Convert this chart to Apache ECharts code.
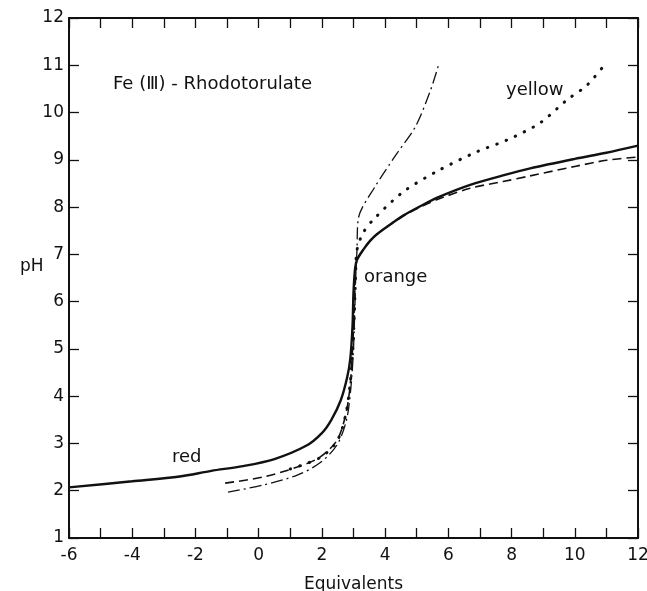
<!DOCTYPE html>
<html><head><meta charset="utf-8">
<script src="https://cdn.jsdelivr.net/npm/echarts@6/dist/echarts.min.js"></script>
<style>html,body{margin:0;padding:0;background:#fff}#c{width:647px;height:591px}</style>
</head><body><div id="c"></div>
<script>
// Data (x = equivalents, y = pH)
const redOrangeSolid = [[-6,2.07],[-4,2.2],[-2.5,2.30],[-1.5,2.42],[-0.5,2.52],[0.5,2.67],[1.5,2.95],[2.0,3.22],[2.3,3.5],[2.6,3.92],[2.8,4.4],[2.9,4.8],[2.97,5.5],[3.0,6.2],[3.05,6.7],[3.11,6.88],[3.3,7.09],[3.53,7.29],[3.75,7.43],[4.16,7.63],[4.57,7.82],[5.2,8.05],[5.65,8.2],[6.69,8.47],[7.73,8.67],[8.59,8.82],[10.0,9.02],[11.0,9.15],[12,9.30]];
const dashedCurve = [[-1.06,2.16],[0.14,2.29],[1.22,2.50],[1.94,2.71],[2.48,3.07],[2.75,3.6],[2.89,4.2],[2.97,5.0],[3.02,5.8],[3.06,6.5],[3.11,6.88],[3.3,7.09],[3.53,7.29],[3.75,7.43],[4.16,7.63],[4.57,7.81],[5.2,8.03],[5.65,8.16],[6.69,8.4],[7.73,8.54],[8.59,8.66],[10.0,8.86],[11.0,8.99],[12,9.06]];
const dashDotCurve = [[-0.97,1.97],[0.14,2.12],[1.22,2.33],[1.94,2.59],[2.48,2.97],[2.78,3.5],[2.92,4.2],[3.0,5.0],[3.04,5.8],[3.07,6.5],[3.11,7.09],[3.15,7.75],[3.68,8.43],[4.38,9.14],[4.95,9.69],[5.42,10.44],[5.71,11.05]];
const dottedYellow = [[1.0,2.46],[1.94,2.70],[2.48,3.05],[2.75,3.6],[2.9,4.3],[2.98,5.0],[3.03,5.8],[3.07,6.6],[3.11,7.09],[3.30,7.45],[3.62,7.73],[4.57,8.32],[5.65,8.76],[6.9,9.17],[7.86,9.42],[8.9,9.78],[9.76,10.27],[10.39,10.58],[10.99,11.05]];
const xMin = -6, xMax = 12, yMin = 1, yMax = 12;

const chart = echarts.init(document.getElementById('c'));
const F = 'DejaVu Sans';
const axisLine = {show:true, onZero:false, lineStyle:{color:'#111', width:2}};
const tick = {show:true, inside:true, length:10, lineStyle:{color:'#111', width:1.3}};
const baseSeries = (data, ls) => ({type:'line', data, showSymbol:false, smooth:0.3, lineStyle:Object.assign({color:'#111'}, ls), silent:true});
chart.setOption({
  animation:false,
  grid:{left:69, right:9, top:18, bottom:53, containLabel:false, outerBoundsMode:'none'},
  xAxis:[
    {type:'value', min:xMin, max:xMax, interval:1, position:'bottom',
     axisLine, axisTick:tick, splitLine:{show:false},
     axisLabel:{color:'#111', fontFamily:F, fontSize:17, margin:9, formatter:v=> (v%2===0? String(v):'')},
     name:'Equivalents', nameLocation:'middle', nameGap:38, nameTextStyle:{color:'#111', fontFamily:F, fontSize:17}},
    {type:'value', min:xMin, max:xMax, interval:1, position:'top',
     axisLine, axisTick:tick, axisLabel:{show:false}, splitLine:{show:false}}
  ],
  yAxis:[
    {type:'value', min:yMin, max:yMax, interval:1, position:'left',
     axisLine, axisTick:tick, splitLine:{show:false},
     axisLabel:{color:'#111', fontFamily:F, fontSize:17, margin:5}},
    {type:'value', min:yMin, max:yMax, interval:1, position:'right',
     axisLine, axisTick:tick, axisLabel:{show:false}, splitLine:{show:false}}
  ],
  series:[
    baseSeries(redOrangeSolid, {width:2.4}),
    baseSeries(dashedCurve, {width:1.6, type:[9,5]}),
    baseSeries(dashDotCurve, {width:1.3, type:[12,4,2,4]}),
    baseSeries(dottedYellow, {width:3, type:[0.5,9.5], cap:'round'})
  ],
  graphic:[
    {type:'text', left:113, top:75, style:{text:'Fe (Ⅲ) - Rhodotorulate', fontFamily:F, fontSize:18, fill:'#111'}},
    {type:'text', left:506, top:81, style:{text:'yellow', fontFamily:F, fontSize:18, fill:'#111'}},
    {type:'text', left:364, top:268, style:{text:'orange', fontFamily:F, fontSize:18, fill:'#111'}},
    {type:'text', left:172, top:448, style:{text:'red', fontFamily:F, fontSize:18, fill:'#111'}},
    {type:'text', left:20, top:258, style:{text:'pH', fontFamily:F, fontSize:17, fill:'#111'}}
  ]
});
</script></body></html>
